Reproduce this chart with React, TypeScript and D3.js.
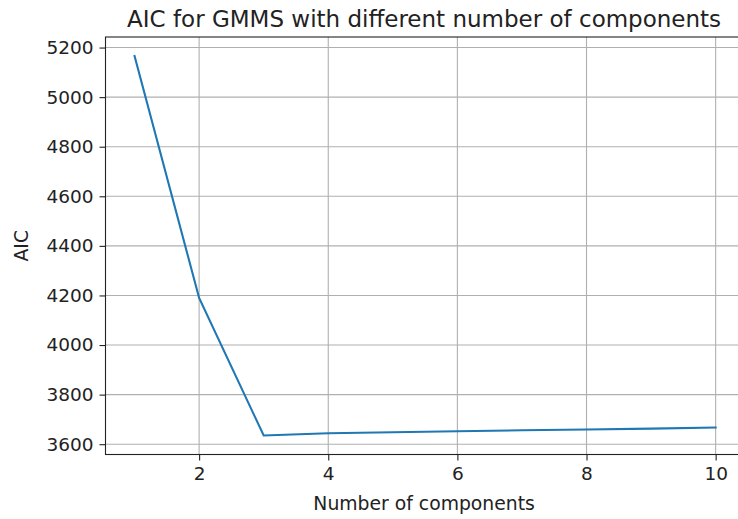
import React, { useEffect, useRef } from 'react';
import * as d3 from 'd3';

// number of components and the AIC
const components = [1, 2, 3, 4, 5, 6, 7, 8, 9, 10];
const aicValues = [5166, 4190, 3635, 3644, 3648, 3652, 3656, 3659, 3663, 3667];
const xTicks = [2, 4, 6, 8, 10];
const yTicks = [3600, 3800, 4000, 4200, 4400, 4600, 4800, 5000, 5200];

const W = 738;
const H = 519;
const FONT = '"DejaVu Sans", sans-serif';

const App = () => {
  const ref = useRef<SVGSVGElement | null>(null);

  useEffect(() => {
    const svg = d3.select(ref.current);
    svg.selectAll('*').remove();

    const left = 105.5;
    const right = 744.7;
    const top = 37;
    const bottom = 454.5;

    // matplotlib style 5% margins
    const xMin = d3.min(components)!;
    const xMax = d3.max(components)!;
    const xPad = (xMax - xMin) * 0.05;
    const yMin = d3.min(aicValues)!;
    const yMax = d3.max(aicValues)!;
    const yPad = (yMax - yMin) * 0.05;

    const x = d3.scaleLinear().domain([xMin - xPad, xMax + xPad]).range([left, right]);
    const y = d3.scaleLinear().domain([yMin - yPad, yMax + yPad]).range([bottom, top]);

    // grid
    const grid = svg.append('g').attr('stroke', '#b0b0b0').attr('stroke-width', 1.1);
    grid.selectAll('.gx')
      .data(xTicks)
      .enter().append('line')
      .attr('x1', d => x(d)).attr('x2', d => x(d))
      .attr('y1', top).attr('y2', bottom);
    grid.selectAll('.gy')
      .data(yTicks)
      .enter().append('line')
      .attr('x1', left).attr('x2', right)
      .attr('y1', d => y(d)).attr('y2', d => y(d));

    // line
    const line = d3.line<number>()
      .x((d, i) => x(components[i]))
      .y(d => y(d));
    svg.append('path')
      .datum(aicValues)
      .attr('d', line)
      .attr('fill', 'none')
      .attr('stroke', '#1f77b4')
      .attr('stroke-width', 2.1)
      .attr('stroke-linecap', 'square');

    // axes
    const xAxis = d3.axisBottom(x).tickValues(xTicks).tickSize(6).tickPadding(6).tickFormat(d3.format('d'));
    const yAxis = d3.axisLeft(y).tickValues(yTicks).tickSize(6).tickPadding(6).tickFormat(d3.format('d'));

    const gx = svg.append('g').attr('transform', `translate(0,${bottom})`).call(xAxis);
    const gy = svg.append('g').attr('transform', `translate(${left},0)`).call(yAxis);
    [gx, gy].forEach(g => {
      g.select('.domain').remove();
      g.selectAll('line').attr('stroke', '#222').attr('stroke-width', 1.1);
      g.selectAll('text')
        .attr('fill', '#222')
        .style('font-family', FONT)
        .style('font-size', '18.5px');
    });

    // spines
    svg.append('rect')
      .attr('x', left).attr('y', top)
      .attr('width', right - left).attr('height', bottom - top)
      .attr('fill', 'none')
      .attr('stroke', '#222')
      .attr('stroke-width', 1.1);

    svg.append('text')
      .attr('x', (left + right) / 2 - 1)
      .attr('y', 27)
      .attr('text-anchor', 'middle')
      .attr('fill', '#222')
      .style('font-family', FONT)
      .style('font-size', '23px')
      .text('AIC for GMMS with different number of components');

    svg.append('text')
      .attr('x', (left + right) / 2 - 1)
      .attr('y', 510)
      .attr('text-anchor', 'middle')
      .attr('fill', '#222')
      .style('font-family', FONT)
      .style('font-size', '18.8px')
      .text('Number of components');

    svg.append('text')
      .attr('transform', `translate(28,${(top + bottom) / 2}) rotate(-90)`)
      .attr('text-anchor', 'middle')
      .attr('fill', '#222')
      .style('font-family', FONT)
      .style('font-size', '18.8px')
      .text('AIC');
  }, []);

  return (
    <svg
      ref={ref}
      width={W}
      height={H}
      style={{ position: 'absolute', left: 0, top: 0, background: '#fff' }}
    />
  );
};

export default App;
